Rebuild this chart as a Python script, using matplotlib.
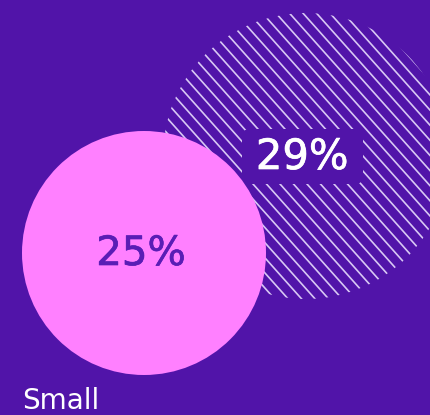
import matplotlib
matplotlib.use("Agg")
import matplotlib.pyplot as plt
from matplotlib.patches import Circle, FancyBboxPatch
import matplotlib.patheffects as pe
import numpy as np

categories = ["Small", "Large"]
values = [25, 29]
labels = ["25%", "29%"]

BG = "#5114A9"
PINK = "#FF80FF"
TXT_DARK = "#5A1DB5"

fig = plt.figure(figsize=(4.30, 4.15), dpi=100)
fig.patch.set_facecolor(BG)
ax = fig.add_axes([0, 0, 1, 1])
ax.set_facecolor(BG)
ax.set_xlim(0, 430)
ax.set_ylim(415, 0)
ax.set_aspect("equal")
ax.axis("off")

# Large (hatched) circle
cx2, cy2, r2 = 306, 156, 143
clip = Circle((cx2, cy2), r2, facecolor="none", edgecolor="none")
ax.add_patch(clip)
spacing = 13.5   # horizontal spacing between hatch lines (px)
slope = 1.12
for c in np.arange(-r2 * 3, r2 * 3, spacing):
    xs = np.array([cx2 - r2 - 10, cx2 + r2 + 10])
    ys = cy2 + slope * (xs - cx2 - c)
    ln, = ax.plot(xs, ys, color="#D8C8F4", lw=1.2, solid_capstyle="butt", zorder=1)
    ln.set_clip_path(clip)

# Label box for 29%
box = FancyBboxPatch((242, 129), 121, 55, boxstyle="round,pad=0,rounding_size=8",
                     facecolor=BG, edgecolor="none", zorder=2)
ax.add_patch(box)
ax.text(302, 157, labels[1], color="white", fontsize=30, fontfamily="DejaVu Sans",
        ha="center", va="center", zorder=3,
        path_effects=[pe.withStroke(linewidth=0.5, foreground="white")])

# Small (pink) circle
cx1, cy1, r1 = 144, 253, 122
ax.add_patch(Circle((cx1, cy1), r1, facecolor=PINK, edgecolor="none", zorder=4))
ax.text(141, 254, labels[0], color=TXT_DARK, fontsize=29, fontfamily="DejaVu Sans",
        ha="center", va="center", zorder=5,
        path_effects=[pe.withStroke(linewidth=0.5, foreground=TXT_DARK)])

ax.text(22, 401, categories[0], color="white", fontsize=20, fontfamily="DejaVu Sans",
        fontweight="normal", ha="left", va="center", zorder=5)

fig.savefig("out.png", dpi=100, facecolor=BG)
